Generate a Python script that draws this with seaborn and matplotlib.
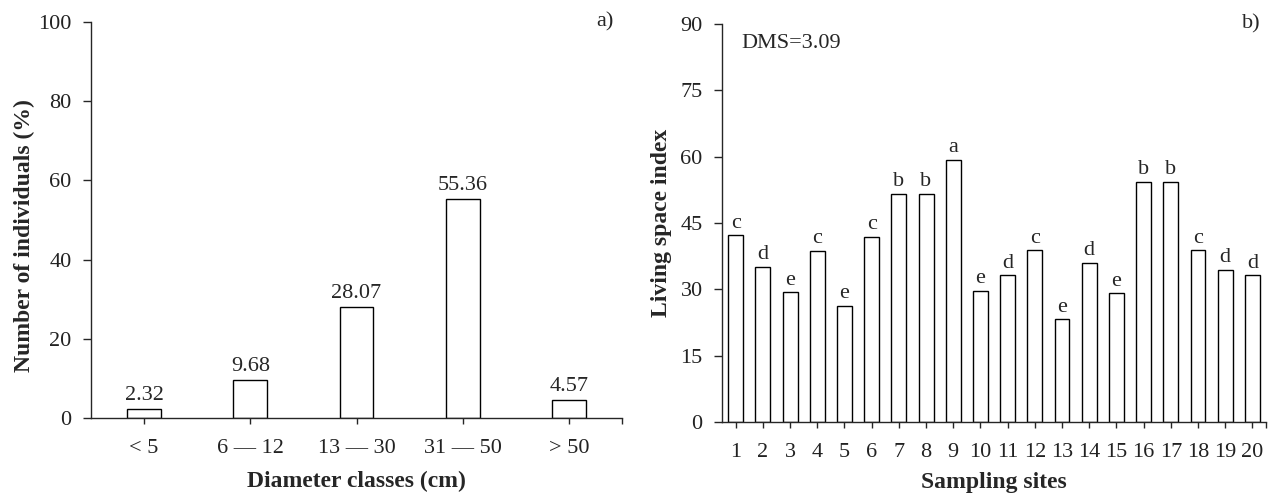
import matplotlib
matplotlib.use("Agg")
import matplotlib.pyplot as plt
import seaborn as sns
import pandas as pd

# ---- data ----
diam_classes = ["< 5", "6 \u2014 12", "13 \u2014 30", "31 \u2014 50", "> 50"]
diam_pct = [2.32, 9.68, 28.07, 55.36, 4.57]

sites = [str(i) for i in range(1, 21)]
living_space = [42.2, 35.1, 29.3, 38.7, 26.2, 41.8, 51.6, 51.6, 59.3, 29.7,
                33.2, 38.8, 23.2, 36.0, 29.1, 54.3, 54.3, 38.8, 34.4, 33.2]
letters = ["c", "d", "e", "c", "e", "c", "b", "b", "a", "e",
           "d", "c", "e", "d", "e", "b", "b", "c", "d", "d"]

sns.set_style("ticks")
plt.rcParams["font.family"] = ["Liberation Serif", "DejaVu Serif"]
plt.rcParams["axes.linewidth"] = 1.0

fig = plt.figure(figsize=(12.73, 4.96), dpi=100)
axa = fig.add_axes([0.0715, 0.157, 0.4171, 0.799])
axb = fig.add_axes([0.5672, 0.149, 0.4273, 0.803])

FS = 16
LFS = 17

# ---- panel a ----
dfa = pd.DataFrame({"cls": diam_classes, "pct": diam_pct})
sns.barplot(data=dfa, x="cls", y="pct", ax=axa, color="white",
            edgecolor="black", linewidth=1.0, width=0.32)
axa.set_ylim(0, 100)
axa.set_xlim(-0.5, len(diam_classes) - 0.5)
axa.set_yticks(range(0, 101, 20))
for i, v in enumerate(diam_pct):
    axa.text(i, v + 1.0, f"{v:.2f}", ha="center", va="bottom", fontsize=FS)
axa.set_xlabel("Diameter classes (cm)", fontsize=LFS, fontweight="bold", labelpad=9)
axa.set_ylabel("Number of individuals (%)", fontsize=LFS, fontweight="bold")
axa.yaxis.set_label_coords(-0.105, 0.46)
axa.text(0.985, 1.0, "a)", transform=axa.transAxes, ha="right", va="center", fontsize=FS)
axa.set_xticks([len(diam_classes) - 0.5], minor=True)

# ---- panel b ----
dfb = pd.DataFrame({"site": sites, "val": living_space})
sns.barplot(data=dfb, x="site", y="val", ax=axb, color="white",
            edgecolor="black", linewidth=1.0, width=0.55)
axb.set_ylim(0, 90)
axb.set_xlim(-0.5, len(sites) - 0.5)
axb.set_yticks(range(0, 91, 15))
for i, (v, l) in enumerate(zip(living_space, letters)):
    axb.text(i, v + 0.6, l, ha="center", va="bottom", fontsize=FS)
axb.set_xlabel("Sampling sites", fontsize=LFS, fontweight="bold", labelpad=7)
axb.set_ylabel("Living space index", fontsize=LFS, fontweight="bold", labelpad=6)
axb.text(0.035, 0.95, "DMS=3.09", transform=axb.transAxes, ha="left", va="center", fontsize=FS)
axb.text(0.99, 1.0, "b)", transform=axb.transAxes, ha="right", va="center", fontsize=FS)
axb.set_xticks([len(sites) - 0.5], minor=True)

for ax in (axa, axb):
    sns.despine(ax=ax)
    ax.tick_params(axis="y", which="major", length=6, width=1, labelsize=FS, pad=8)
    ax.tick_params(axis="x", which="both", length=4, width=1, labelsize=FS, pad=11)
    for lab in ax.get_yticklabels() + ax.get_xticklabels():
        lab.set_color("#222222")

fig.savefig("out.png", dpi=100, facecolor="white")
